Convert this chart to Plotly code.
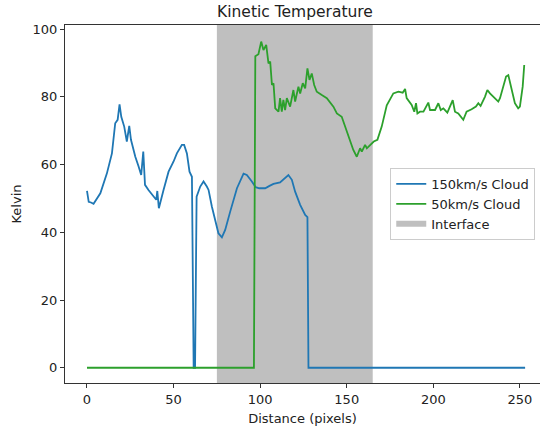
import plotly.graph_objects as go

# 150 km/s cloud temperature profile (distance in pixels, temperature in K)
fast_x = [0, 1, 2.3, 3.8, 7.7, 11.5, 14.4, 16.3, 17.7, 18.8, 19.8, 21.5, 23, 24.4, 25.4,
          27.9, 29.8, 31.3, 32.5, 33.5, 35.5, 38.4, 40, 40.6, 41.5, 44.2, 47.1, 50, 51.9,
          54.8, 56.1, 57.7, 59.2, 60.6, 61.6, 62.4, 63.3, 65.4, 67.3, 69.2, 70.2, 72.1, 73,
          75.9, 77.9, 79.8, 82.7, 86.6, 90.4, 92.3, 95.2, 97.4, 99.5, 102.9, 105.4, 107.7,
          111.5, 113.4, 116.3, 118.3, 120.2, 123.1, 126, 127.3, 127.9, 253]
fast_t = [52.2, 49, 48.8, 48.4, 51.5, 57.4, 63.3, 72.2, 73.2, 77.8, 74.1, 71.2, 66.8, 71.4,
          67.3, 62.3, 59.4, 56.9, 63.8, 54, 52.5, 50.5, 49.6, 52.2, 47.1, 52.5, 57.9, 60.9,
          63.3, 65.8, 65.8, 63.3, 57.9, 56.4, 0, 0, 50.5, 53.5, 55, 53.5, 52.5, 47.6, 45.6,
          39.7, 38.5, 40.7, 46.1, 53, 57.3, 56.9, 55, 53.3, 53, 53, 53.7, 54.3, 54.7, 55.5,
          56.9, 55.5, 52, 48.1, 45.1, 44.5, 0, 0]

# 50 km/s cloud temperature profile
slow_x = [0, 96.4, 97.2, 99, 100.6, 101.9, 103.5, 104.8, 105.8, 106.8, 107.7, 108.7, 110.6,
          111.5, 112.5, 113.4, 114.4, 115.4, 117.3, 119.2, 120.2, 122.1, 123.1, 124.6, 126,
          127.3, 128.5, 129.8, 131.2, 132.7, 135.6, 138.5, 142.3, 144.3, 147.1, 149, 151.9,
          153.8, 155.8, 157.7, 158.7, 160.6, 161.6, 163.5, 165.6, 167.7, 170.2, 173.1, 176.9,
          179.8, 182.3, 183.7, 184.6, 187.5, 189, 190, 190.8, 192.3, 194.3, 197.1, 198.1,
          201, 202.9, 204.3, 205.8, 208.1, 211.2, 212.5, 214.4, 217.3, 219.2, 222.1, 224.6,
          226, 227.3, 229.8, 231.2, 232.7, 234.6, 237.5, 238.5, 240.4, 242, 243.3, 245.2,
          247.1, 249, 250, 251.6, 252.5]
slow_t = [0, 0, 92, 92.6, 96.3, 93.8, 95.3, 89.9, 90.4, 83.5, 84, 76.6, 75.6, 79.6, 75.6,
          79.1, 76.1, 79.6, 77.1, 82, 78.6, 83, 81, 84, 82.5, 88.4, 85, 86.9, 83.5, 81.5, 80.5,
          79.6, 77.1, 75.1, 74.1, 71.2, 67.3, 64.3, 62.3, 64.8, 63.8, 65.8, 64.8, 65.8, 66.8,
          67.3, 71.2, 77.5, 81, 81.5, 81.2, 82.3, 79.6, 77.6, 75.6, 78.1, 75.1, 75.6, 75.6,
          78.3, 76.1, 76.1, 78.1, 76.1, 76.6, 75.3, 79, 75.6, 75.1, 73.2, 75.6, 76.3, 77.1,
          78.1, 77.3, 80, 82, 81, 80, 78.6, 79.6, 83, 86, 86.4, 82, 78.1, 76.6, 77.1, 83, 89.4]

# Interface zone between the two clouds
interface_span = [75, 165]

x_ticks = [0, 50, 100, 150, 200, 250]
y_ticks = [0, 20, 40, 60, 80, 100]

font_family = "DejaVu Sans, sans-serif"
text_color = "#222222"
interface_color = "#bfbfbf"

fig = go.Figure()

# Shaded interface band spanning the full plot height
fig.add_vrect(
    x0=interface_span[0], x1=interface_span[1],
    fillcolor=interface_color, line_width=0, layer="below",
)

fig.add_trace(go.Scatter(
    x=fast_x, y=fast_t, mode="lines", name="150km/s Cloud",
    line=dict(color="#1f77b4", width=1.8),
))
fig.add_trace(go.Scatter(
    x=slow_x, y=slow_t, mode="lines", name="50km/s Cloud",
    line=dict(color="#2ca02c", width=1.8),
))
# Legend entry for the interface band (patch-style swatch)
fig.add_trace(go.Scatter(
    x=[None], y=[None], mode="none", name="Interface",
    fill="toself", fillcolor=interface_color,
))

fig.update_layout(
    width=540, height=429,
    margin=dict(l=65, r=0, t=25, b=46),
    paper_bgcolor="white", plot_bgcolor="white",
    font=dict(family=font_family, size=13, color=text_color),
    title=dict(
        text="Kinetic Temperature", x=295 / 540, xanchor="center",
        xref="container", y=1 - 11.5 / 429, yanchor="middle", yref="container",
        font=dict(size=15.5, color=text_color),
    ),
    showlegend=True,
    legend=dict(
        x=0.99, xanchor="right", y=0.5, yanchor="middle",
        bgcolor="rgba(255,255,255,0.85)", bordercolor="#cccccc", borderwidth=1,
        font=dict(size=13), tracegroupgap=0,
    ),
)

fig.update_xaxes(
    range=[-12.7, 261.6], tickvals=x_ticks, ticks="outside", ticklen=4,
    tickcolor="#333333", showline=True, linecolor="#333333", linewidth=1,
    mirror=True, showgrid=False, zeroline=False,
    title=dict(text="Distance (pixels)", standoff=8, font=dict(size=13)),
)
fig.update_yaxes(
    range=[-4.5, 101.2], tickvals=y_ticks, ticks="outside", ticklen=4,
    tickcolor="#333333", showline=True, linecolor="#333333", linewidth=1,
    mirror=False, showgrid=False, zeroline=False,
    title=dict(text="Kelvin", standoff=8, font=dict(size=13)),
)

fig.write_html("out.html")
